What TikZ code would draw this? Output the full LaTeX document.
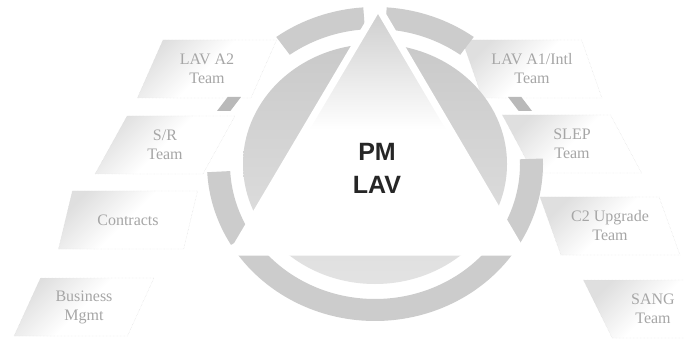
\documentclass[tikz,border=0pt]{standalone}
\usepackage{fontspec}
\setmainfont{Liberation Serif}
\newfontfamily\headfont{Liberation Sans}
\usetikzlibrary{shapes.geometric}
\colorlet{ringgray}{gray!40}
\tikzset{
  team/.style={trapezium, trapezium stretches=true, minimum width=140pt, minimum height=58pt,
    draw=gray!30, densely dotted, text=gray!70, align=center, font=\fontsize{16}{19}\selectfont,
    top color=gray!25, bottom color=white, middle color=white, shading angle=45},
  teamleft/.style={team, trapezium left angle=64, trapezium right angle=116},
  teamright/.style={team, trapezium left angle=116, trapezium right angle=64},
  tab/.style={trapezium, trapezium stretches=true, minimum width=24pt, minimum height=12pt,
    inner sep=1pt, fill=gray!55}
}
\begin{document}
\begin{tikzpicture}[x=1pt,y=1pt]
\clip (0,0) rectangle (684,340);
\fill[white] (0,0) rectangle (684,340);
\node (lava2) [teamleft] at (207,271) {LAV A2\\Team};
\node (sr) [teamleft] at (165,195) {S/R\\Team};
\node (contracts) [teamleft] at (128,120) {Contracts};
\node (business) [teamleft] at (84,33) {Business\\Mgmt};
\node (lava1) [teamright] at (532,271) {LAV A1/Intl\\Team};
\node (slep) [teamright] at (572,196) {SLEP\\Team};
\node (c2) [teamright] at (610,114) {C2 Upgrade\\Team};
\node (sang) [teamright] at (653,31) {SANG\\Team};
\node (tableft) [tab, trapezium left angle=60, trapezium right angle=120] at (229,236) {\strut};
\node (tabright) [tab, trapezium left angle=120, trapezium right angle=60] at (520,236) {\strut};
\coordinate (c) at (375,176);
\foreach \ta/\tb in {94/126, 54/86, 183/211, 215/325, 329/362} {
  \fill[ringgray] ([shift={(\ta:168pt and 157pt)}]c)
    arc[start angle=\ta, end angle=\tb, x radius=168pt, y radius=157pt]
    -- ([shift={(\tb:145pt and 135pt)}]c)
    arc[start angle=\tb, end angle=\ta, x radius=145pt, y radius=135pt] -- cycle;
}
\shade[top color=gray!42, bottom color=gray!22] (c) ellipse [x radius=132pt, y radius=120pt];
\coordinate (apex) at (378,333);
\coordinate (bl) at (233,88);
\coordinate (br) at (522,88);
\shade[top color=gray!40, bottom color=white, middle color=white] (apex) -- (bl) -- (br) -- cycle;
\draw[white, line width=7pt, line join=round] (apex) -- (bl) -- (br) -- cycle;
\node (pm) [font=\headfont\bfseries\fontsize{25}{33}\selectfont, text=black!85, align=center] at (377,172) {PM\\LAV};
\end{tikzpicture}
\end{document}
